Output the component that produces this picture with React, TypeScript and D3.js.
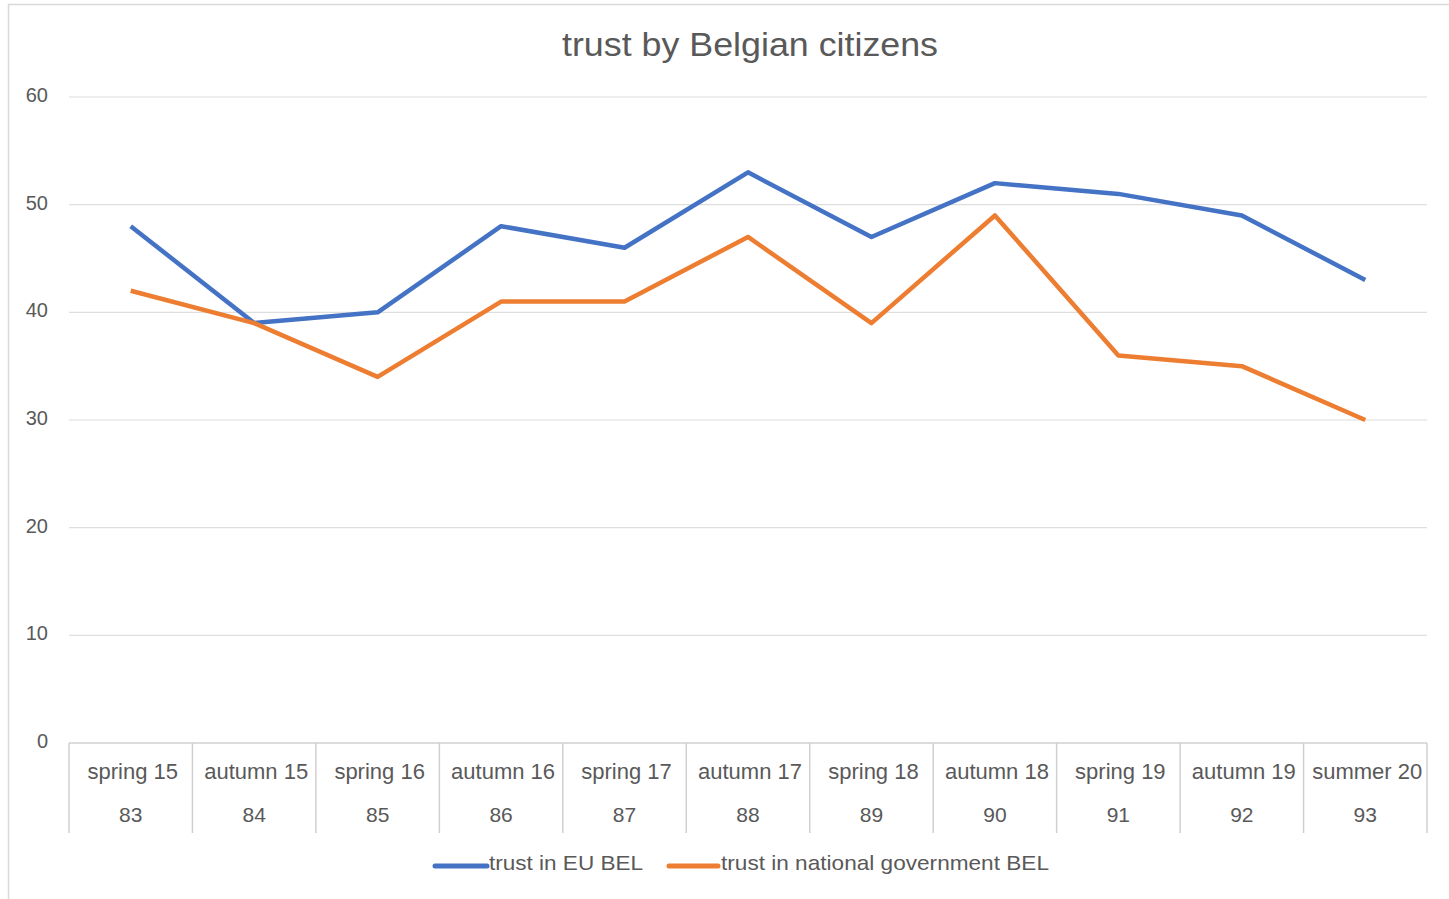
import React from "react";
import * as d3 from "d3";

const categories = ["spring 15", "autumn 15", "spring 16", "autumn 16", "spring 17", "autumn 17", "spring 18", "autumn 18", "spring 19", "autumn 19", "summer 20"];
const waves = ["83", "84", "85", "86", "87", "88", "89", "90", "91", "92", "93"];
const trustEU = [48, 39, 40, 48, 46, 53, 47, 52, 51, 49, 43];
const trustNational = [42, 39, 34, 41, 41, 47, 39, 49, 36, 35, 30];
const yTicks = [0, 10, 20, 30, 40, 50, 60];
const seriesNames = ["trust in EU BEL", "trust in national government BEL"];
const seriesColors = ["#4472C4", "#ED7D31"];

export default function App() {
  const W = 1449, H = 899;
  const left = 69, right = 1427, top = 97, bottom = 743;
  const x = d3.scaleBand<string>().domain(categories).range([left, right]).paddingInner(0).paddingOuter(0);
  const y = d3.scaleLinear().domain([0, 60]).range([bottom, top]);
  const line = d3.line<number>()
    .x((_, i) => (x(categories[i]) as number) + x.bandwidth() / 2)
    .y((d) => y(d));
  const font = "'Liberation Sans', Arial, Helvetica, sans-serif";
  const textColor = "#595959";
  const series = [trustEU, trustNational];
  const bounds = categories.map((c) => x(c) as number).concat([right]);

  return (
    <svg width={W} height={H} style={{ position: "absolute", left: 0, top: 0, background: "#fff" }} fontFamily={font}>
      <rect x={8.5} y={4.5} width={W + 10} height={H + 10} fill="#fff" stroke="#d9d9d9" strokeWidth={1.5} />
      <text x={750} y={56} textAnchor="middle" fontSize={33} fill={textColor} textLength={376} lengthAdjust="spacingAndGlyphs">trust by Belgian citizens</text>
      {yTicks.map((t) => (
        <g key={t}>
          {t > 0 && <line x1={left} x2={right} y1={y(t)} y2={y(t)} stroke="#dedede" strokeWidth={1.2} />}
          <text x={48} y={y(t) + 5} textAnchor="end" fontSize={20} fill={textColor}>{t}</text>
        </g>
      ))}
      <line x1={left} x2={right} y1={bottom} y2={bottom} stroke="#d0d0d0" strokeWidth={1.5} />
      {bounds.map((b, i) => (
        <line key={i} x1={b} x2={b} y1={bottom} y2={833} stroke="#d0d0d0" strokeWidth={1.5} />
      ))}
      {categories.map((c, i) => {
        const cx = (x(c) as number) + x.bandwidth() / 2;
        return (
          <g key={c}>
            <text x={cx + 2} y={779} textAnchor="middle" fontSize={22} fill={textColor}>{c}</text>
            <text x={cx} y={822} textAnchor="middle" fontSize={21} fill={textColor}>{waves[i]}</text>
          </g>
        );
      })}
      {series.map((s, i) => (
        <path key={i} d={line(s) || ""} fill="none" stroke={seriesColors[i]} strokeWidth={4.5} strokeLinejoin="round" />
      ))}
      <g>
        <line x1={435} x2={487} y1={866} y2={866} stroke={seriesColors[0]} strokeWidth={5} strokeLinecap="round" />
        <text x={489} y={870} fontSize={21} fill={textColor} textLength={154} lengthAdjust="spacingAndGlyphs">{seriesNames[0]}</text>
        <line x1={669} x2={718} y1={866} y2={866} stroke={seriesColors[1]} strokeWidth={5} strokeLinecap="round" />
        <text x={721} y={870} fontSize={21} fill={textColor} textLength={328} lengthAdjust="spacingAndGlyphs">{seriesNames[1]}</text>
      </g>
    </svg>
  );
}
